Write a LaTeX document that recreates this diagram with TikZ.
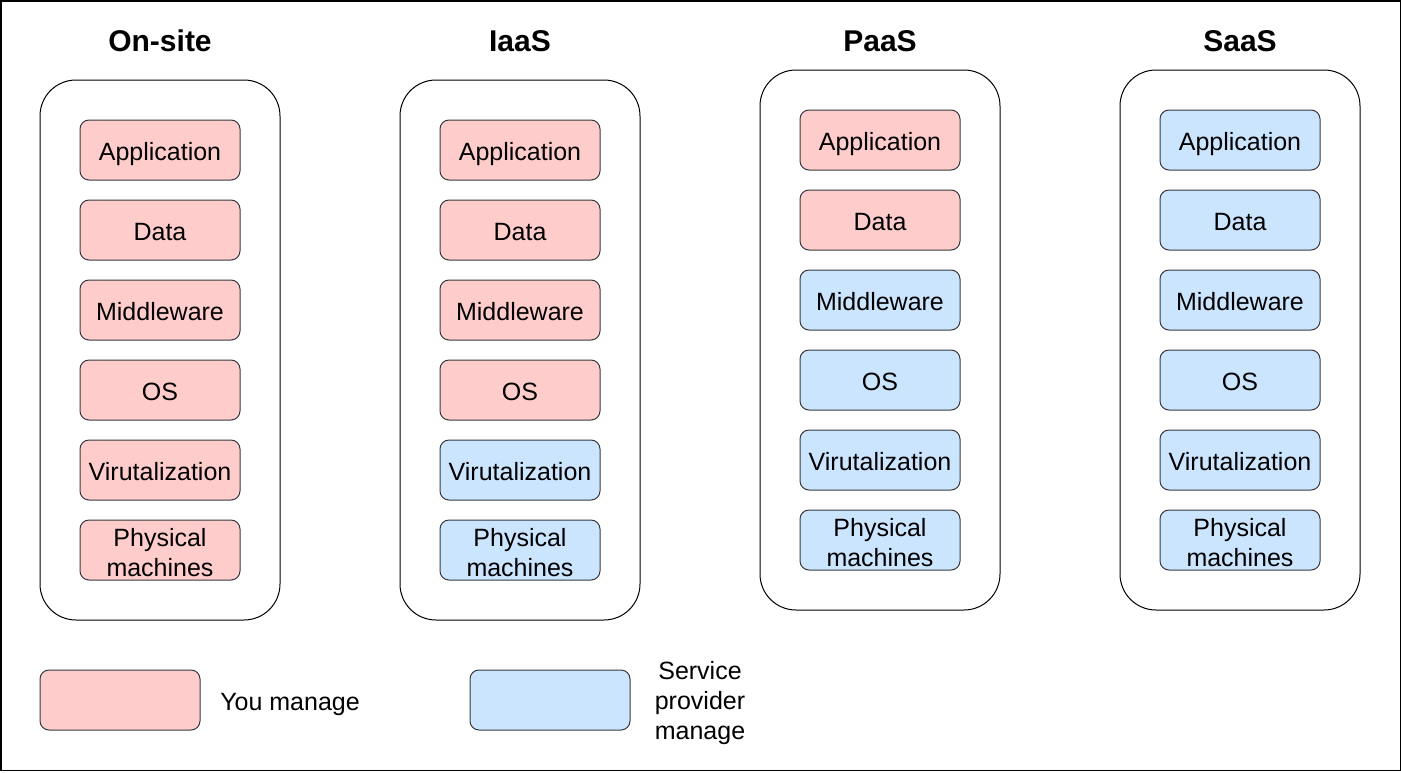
\documentclass[tikz,border=0pt]{standalone}
\usepackage{fontspec}
\setmainfont{Liberation Sans}
\definecolor{pinkfill}{HTML}{FFCCCC}
\definecolor{bluefill}{HTML}{CCE5FF}
\definecolor{boxline}{HTML}{36393D}
\begin{document}
\begin{tikzpicture}[x=1pt,y=-1pt,
  frame/.style={draw=black, line width=1.5pt},
  container/.style={draw=black, line width=1pt, rounded corners=36pt,
    minimum width=240pt, minimum height=540pt, inner sep=0pt},
  layerbase/.style={draw=boxline, line width=1pt, rounded corners=9pt,
    minimum width=160pt, minimum height=60pt, inner sep=0pt,
    font=\fontsize{25}{30}\selectfont},
  layer/.style={layerbase, text height=20pt, text depth=0pt},
  twoline/.style={font=\fontsize{25}{30}\selectfont, inner sep=0pt, align=center},
  you/.style={fill=pinkfill},
  sp/.style={fill=bluefill},
  coltitle/.style={font=\fontsize{30}{36}\selectfont\bfseries, inner sep=0pt,
    text height=22pt, text depth=0pt},
  legendtext/.style={font=\fontsize{25}{30}\selectfont, inner sep=0pt},
]
\useasboundingbox (0,0) rectangle (1401,772);
\draw[frame] (0.75,0.75) rectangle (1400.25,770.25);

\foreach \col/\cx/\cy/\ttl/\npink in {1/160/350/On-site/6, 2/520/350/IaaS/4, 3/880/340/PaaS/2, 4/1240/340/SaaS/0} {
  \node[container] (c\col) at (\cx,\cy) {};
  \node[coltitle] (t\col) at (\cx,40) {\ttl};
  \foreach \i/\txt in {1/Application,2/Data,3/Middleware,4/OS,5/Virutalization} {
    \ifnum\i>\npink\relax \def\fillstyle{sp}\else\def\fillstyle{you}\fi
    \node[layer,\fillstyle] (b\col-\i) at (\cx,{\cy-200+80*(\i-1)}) {\txt};
  }
  \ifnum6>\npink\relax \def\fillstyle{sp}\else\def\fillstyle{you}\fi
  \node[layerbase,\fillstyle] (b\col-6) at (\cx,{\cy+200}) {};
  \node[twoline] (b\col-6text) at ([yshift=-2.5pt]b\col-6.center) {Physical\\machines};
}

\node[layerbase, you] (legyou) at (120,700) {};
\node[legendtext, text height=19pt, text depth=0pt] (legyoutext) at (290,700.5) {You manage};
\node[layerbase, sp] (legsp) at (550,700) {};
\node[legendtext, align=center] (legsptext) at (700,703.5) {Service\\provider\\manage};
\end{tikzpicture}
\end{document}
